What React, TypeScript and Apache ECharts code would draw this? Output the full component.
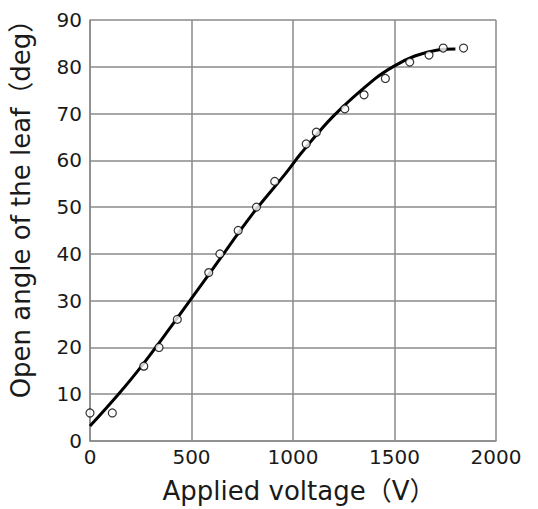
import React, { useEffect, useRef } from "react";
import * as echarts from "echarts";

const voltage = [0, 110, 265, 340, 430, 585, 640, 730, 820, 910, 1065, 1115, 1255, 1350, 1455, 1575, 1670, 1740, 1840];
const angle = [6, 6, 16, 20, 26, 36, 40, 45, 50, 55.5, 63.5, 66, 71, 74, 77.5, 81, 82.5, 84, 84];

const fitVoltage = [0, 140, 250, 400, 500, 600, 800, 960, 1040, 1200, 1400, 1500, 1600, 1700, 1800];
const fitAngle = [3.2, 10, 15.8, 24.5, 30.5, 36.5, 48.5, 57, 61.5, 69.5, 77.3, 80.2, 82.3, 83.5, 83.8];

const xTicks = [0, 500, 1000, 1500, 2000];
const yTicks = [0, 10, 20, 30, 40, 50, 60, 70, 80, 90];

const FONT = "'DejaVu Sans', 'Noto Sans CJK JP', sans-serif";

export default function App() {
  const ref = useRef<HTMLDivElement>(null);
  useEffect(() => {
    if (!ref.current) return;
    const chart = echarts.init(ref.current, undefined, { renderer: "svg" });
    const gridColor = "#8a8a8a";
    chart.setOption({
      animation: false,
      backgroundColor: "#ffffff",
      grid: { left: 81, right: 42, top: 20, bottom: 62, containLabel: false },
      xAxis: {
        type: "value",
        min: xTicks[0],
        max: xTicks[xTicks.length - 1],
        interval: 500,
        axisLine: { show: true, lineStyle: { color: gridColor, width: 1.5 } },
        axisTick: { show: false },
        splitLine: { show: true, lineStyle: { color: gridColor, width: 1.5 } },
        axisLabel: {
          color: "#1a1a1a",
          fontSize: 20,
          fontFamily: FONT,
          margin: 6,
          formatter: (v: number) => String(v),
        },
        name: "Applied voltage（V）",
        nameLocation: "middle",
        nameGap: 37,
        nameTextStyle: { color: "#1a1a1a", fontSize: 26, fontFamily: FONT, padding: [0, 0, 0, 12] },
      },
      yAxis: {
        type: "value",
        min: yTicks[0],
        max: yTicks[yTicks.length - 1],
        interval: 10,
        axisLine: { show: true, lineStyle: { color: gridColor, width: 1.5 } },
        axisTick: { show: false },
        splitLine: { show: true, lineStyle: { color: gridColor, width: 1.5 } },
        axisLabel: { color: "#1a1a1a", fontSize: 20, fontFamily: FONT, margin: 8 },
        name: "Open angle of the leaf（deg）",
        nameLocation: "middle",
        nameGap: 56,
        nameTextStyle: { color: "#1a1a1a", fontSize: 26, fontFamily: FONT, padding: [0, 0, 0, 56] },
      },
      series: [
        {
          type: "line",
          data: fitVoltage.map((v, i) => [v, fitAngle[i]]),
          smooth: 0.4,
          showSymbol: false,
          symbol: "none",
          lineStyle: { color: "#000", width: 3 },
          z: 2,
        },
        {
          type: "scatter",
          data: voltage.map((v, i) => [v, angle[i]]),
          symbol: "circle",
          symbolSize: 8,
          itemStyle: { color: "#fff", borderColor: "#000", borderWidth: 1.2 },
          z: 3,
        },
      ],
    });
    return () => chart.dispose();
  }, []);
  return <div ref={ref} style={{ width: 538, height: 509, position: "absolute", left: 0, top: 0 }} />;
}
